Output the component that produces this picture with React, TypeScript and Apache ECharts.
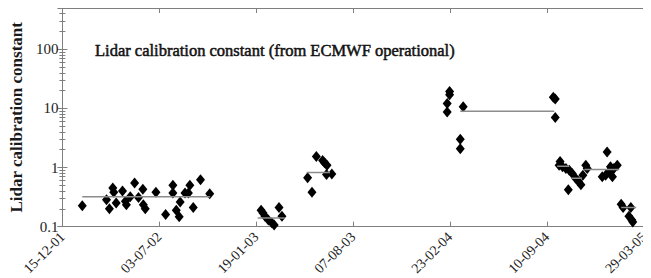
import React, { useEffect, useRef } from "react";
import * as echarts from "echarts";

// Day 0 = 15-12-01
const startDateUTC = Date.UTC(2001, 11, 15);
const xMinDay = 0;
const xMaxDay = 1200;
const xStepDays = 200;
const yMin = 0.1;
const yMax = 500;

const titleText = "Lidar calibration constant (from ECMWF operational)";
const yAxisTitle = "Lidar calibration constant";

// Individual calibration estimates (days since 15-12-01, value)
const obsDays = [
  41, 91, 97, 104, 106, 111, 124, 130, 132, 140, 149, 157, 166, 167, 171, 193,
  213, 228, 228, 235, 241, 243, 253, 260, 263, 270, 285, 304,
  410, 414, 418, 425, 432, 437, 447, 453,
  506, 515, 524, 537, 541, 546, 545, 556,
  799, 799, 794, 794, 827, 821, 821,
  1013, 1017, 1017,
  1027, 1025, 1032, 1039, 1046, 1052, 1044, 1059, 1065, 1070, 1074, 1080, 1083,
  1114, 1121, 1124, 1128, 1135, 1138, 1145, 1131,
  1153, 1157, 1173, 1169, 1175, 1177,
];
const obsValues = [
  0.226, 0.285, 0.2, 0.45, 0.38, 0.25, 0.4, 0.27, 0.235, 0.32, 0.55, 0.31, 0.43, 0.235, 0.2, 0.38,
  0.16, 0.5, 0.37, 0.19, 0.147, 0.26, 0.37, 0.37, 0.5, 0.21, 0.62, 0.36,
  0.19, 0.17, 0.15, 0.13, 0.116, 0.107, 0.21, 0.15,
  0.67, 0.38, 1.54, 1.32, 1.2, 1.09, 0.76, 0.78,
  19.4, 17.1, 12.1, 8.7, 10.7, 3.0, 2.07,
  15.4, 14.5, 7.0,
  1.27, 1.09, 1.03, 0.96, 0.9, 0.79, 0.42, 0.66, 0.58, 0.51, 0.74, 1.09, 0.96,
  0.7, 0.74, 1.83, 0.85, 0.7, 0.96, 1.09, 1.03,
  0.24, 0.21, 0.21, 0.15, 0.13, 0.12,
];

// Period means (horizontal grey segments)
const meanStartDays = [41, 403, 504, 821, 1021, 1050, 1077, 1153];
const meanEndDays = [305, 459, 552, 1015, 1046, 1072, 1149, 1184];
const meanValues = [0.32, 0.14, 0.82, 9.0, 1.05, 0.66, 0.93, 0.21];

const serif = "Liberation Serif";
const axisGrey = "#7f7f7f";

function dayLabel(d: number): string {
  const t = new Date(startDateUTC + d * 86400000);
  const dd = String(t.getUTCDate()).padStart(2, "0");
  const mm = String(t.getUTCMonth() + 1).padStart(2, "0");
  const yy = String(t.getUTCFullYear() % 100).padStart(2, "0");
  return `${dd}-${mm}-${yy}`;
}

export default function App() {
  const ref = useRef<HTMLDivElement>(null);
  useEffect(() => {
    if (!ref.current) return;
    const chart = echarts.init(ref.current, undefined, { renderer: "svg" });
    const scatterData = obsDays.map((d, i) => [d, obsValues[i]]);
    const meanSeries = meanValues.map((v, i) => ({
      type: "line" as const,
      data: [
        [meanStartDays[i], v],
        [meanEndDays[i], v],
      ],
      symbol: "none",
      lineStyle: { color: "#8c8c8c", width: 1.5 },
      z: 3,
      silent: true,
    }));
    const xBase = {
      type: "value" as const,
      min: xMinDay,
      max: xMaxDay,
      interval: xStepDays,
      splitLine: { show: false },
      axisLine: { show: true, lineStyle: { color: axisGrey, width: 1 } },
      axisTick: { show: true, inside: true, length: 5, lineStyle: { color: axisGrey } },
    };
    const yBase = {
      type: "log" as const,
      logBase: 10,
      min: yMin,
      max: yMax,
      splitLine: { show: false },
      axisLine: { show: true, lineStyle: { color: axisGrey, width: 1 } },
      axisTick: { show: true, inside: true, length: 5, lineStyle: { color: axisGrey } },
      minorTick: { show: true, splitNumber: 9, length: 3, lineStyle: { color: axisGrey } },
    };
    chart.setOption({
      animation: false,
      backgroundColor: "#ffffff",
      grid: { left: 62, right: 6, top: 8, bottom: 49, containLabel: false },
      title: {
        text: titleText,
        left: 90,
        top: 37,
        textStyle: {
          fontFamily: serif,
          fontSize: 16.5,
          fontWeight: "normal",
          color: "#111",
          textBorderColor: "#111",
          textBorderWidth: 0.5,
        },
      },
      xAxis: [
        {
          ...xBase,
          position: "bottom",
          axisLabel: {
            show: true,
            rotate: 45,
            margin: 8,
            fontFamily: serif,
            fontSize: 14,
            color: "#222",
            formatter: (v: number) => dayLabel(v),
          },
        },
        { ...xBase, position: "top", axisLabel: { show: false } },
      ],
      yAxis: [
        {
          ...yBase,
          position: "left",
          name: yAxisTitle,
          nameLocation: "middle",
          nameGap: 31,
          nameTextStyle: { fontFamily: serif, fontSize: 17, fontWeight: "bold", color: "#1a1a1a" },
          axisLabel: {
            show: true,
            margin: 4,
            fontFamily: serif,
            fontSize: 15,
            color: "#222",
            showMaxLabel: false,
            formatter: (v: number) => (v > 200 ? "" : String(v)),
          },
        },
        { ...yBase, position: "right", axisLabel: { show: false } },
      ],
      series: [
        {
          type: "scatter",
          data: scatterData,
          symbol: "diamond",
          symbolSize: [9, 11],
          itemStyle: { color: "#000000", opacity: 1 },
          z: 2,
        },
        ...meanSeries,
      ],
    });
    return () => chart.dispose();
  }, []);
  return <div ref={ref} style={{ width: 651, height: 278, marginLeft: -8, marginTop: -8 }} />;
}
